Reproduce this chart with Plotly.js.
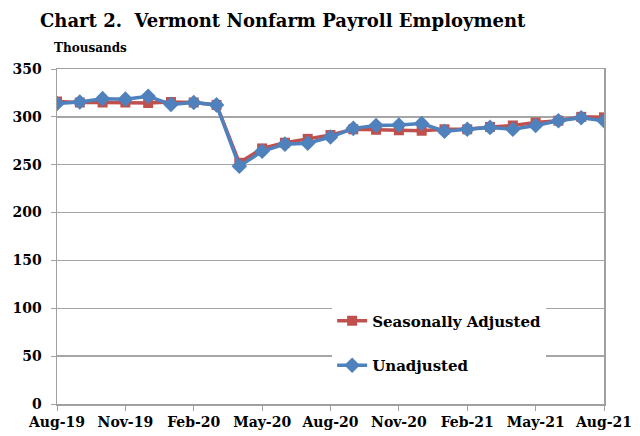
<!DOCTYPE html>
<html>
<head>
<meta charset="utf-8">
<script src="https://cdn.plot.ly/plotly-3.0.1.min.js"></script>
<style>html,body{margin:0;padding:0;background:#fff;}#chart{width:640px;height:436px;}</style>
</head>
<body>
<div id="chart"></div>
<script>
const months = ["Aug-19","Sep-19","Oct-19","Nov-19","Dec-19","Jan-20","Feb-20","Mar-20","Apr-20","May-20","Jun-20","Jul-20","Aug-20","Sep-20","Oct-20","Nov-20","Dec-20","Jan-21","Feb-21","Mar-21","Apr-21","May-21","Jun-21","Jul-21","Aug-21"];
const seasonallyAdjusted = [316,315,315,315,314.5,315.5,315,312.5,252,267,273,277,281,287,286.5,286,285.5,287,287,289.5,291,294,296,300,299.5];
const unadjusted = [314,315.5,319,318.5,321.5,313,315,312.5,248.5,264,271.5,272.5,279,288,291,291.5,293,285,287,289,287,291,296,299,296];
const tickLabels = ["Aug-19","Nov-19","Feb-20","May-20","Aug-20","Nov-20","Feb-21","May-21","Aug-21"];
const yTicks = [0,50,100,150,200,250,300,350];

const FONT = "DejaVu Serif, serif";
const xIdx = months.map((m,i)=>i);
const tickIdx = tickLabels.map(t=>months.indexOf(t));

const traces = [
  {x:xIdx, y:seasonallyAdjusted, name:"Seasonally Adjusted", type:"scatter", mode:"lines+markers",
   line:{color:"#C0504D", width:3.5}, marker:{symbol:"square", size:10, color:"#C0504D"}, legendgroup:"a"},
  {x:xIdx, y:unadjusted, name:"Unadjusted", type:"scatter", mode:"lines+markers",
   line:{color:"#4F81BD", width:3.5}, marker:{symbol:"diamond", size:12, color:"#4F81BD"}, legendgroup:"b"}
];

const layout = {
  width:640, height:436,
  margin:{l:57, r:36, t:69, b:32},
  paper_bgcolor:"#fff", plot_bgcolor:"#fff",
  font:{family:FONT, color:"#000", size:14},
  showlegend:true,
  legend:{x:0.503, y:0.297, xanchor:"left", yanchor:"top", bgcolor:"#fff",
          font:{family:FONT, size:15, color:"#000", weight:"bold"}, traceorder:"grouped", tracegroupgap:22},
  xaxis:{range:[0,24], tickmode:"array", tickvals:tickIdx, ticktext:tickLabels,
         ticks:"outside", ticklen:5, tickcolor:"#a0a0a0", showgrid:false, zeroline:false,
         showline:true, linecolor:"#a0a0a0", linewidth:1.5, mirror:true,
         tickfont:{family:FONT, size:14, weight:"bold"}},
  yaxis:{range:[0,350], tickmode:"array", tickvals:yTicks, ticks:"outside", ticklen:5, tickcolor:"#a0a0a0",
         ticklabelstandoff:6,
         showgrid:true, gridcolor:"#a6a6a6", gridwidth:1.5, zeroline:false,
         showline:true, linecolor:"#a0a0a0", linewidth:1.5, mirror:true,
         tickfont:{family:FONT, size:14, weight:"bold"}},
  title:{text:"Chart 2.  Vermont Nonfarm Payroll Employment", x:40/640, xanchor:"left", y:1-21/436, yanchor:"middle",
         font:{family:FONT, size:18, weight:"bold", color:"#000"}},
  annotations:[{text:"Thousands", xref:"paper", yref:"paper", x:-5/547, y:1+21/335, xanchor:"left", yanchor:"middle",
                showarrow:false, font:{family:FONT, size:12, weight:"bold", color:"#000"}}]
};
Plotly.newPlot("chart", traces, layout, {displayModeBar:false, staticPlot:true});
</script>
</body>
</html>
